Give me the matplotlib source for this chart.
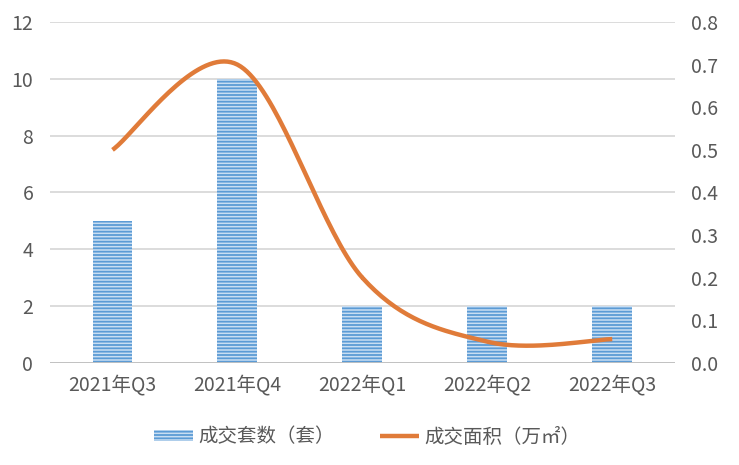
import numpy as np
import matplotlib.pyplot as plt

plt.rcParams['font.family'] = ['Noto Sans CJK SC', 'DejaVu Sans']
plt.rcParams['hatch.color'] = '#5b9bd5'
plt.rcParams['hatch.linewidth'] = 1.3

quarters = ['2021年Q3', '2021年Q4', '2022年Q1', '2022年Q2', '2022年Q3']
deals = [5, 10, 2, 2, 2]
area = [0.50, 0.70, 0.20, 0.05, 0.056]


def catmull_rom(xs, ys, n=40):
    # smooth line like the office chart tool, through every point
    px = np.concatenate([[xs[0]], xs, [xs[-1]]])
    py = np.concatenate([[ys[0]], ys, [ys[-1]]])
    out_x, out_y = [], []
    t = np.linspace(0, 1, n)
    for i in range(1, len(px) - 2):
        for p, o in ((px, out_x), (py, out_y)):
            p0, p1, p2, p3 = p[i - 1], p[i], p[i + 1], p[i + 2]
            o.extend(0.5 * ((2 * p1) + (-p0 + p2) * t
                            + (2 * p0 - 5 * p1 + 4 * p2 - p3) * t ** 2
                            + (-p0 + 3 * p1 - 3 * p2 + p3) * t ** 3))
    return np.array(out_x), np.array(out_y)


fig = plt.figure(figsize=(7.39, 4.65), dpi=100)
ax = fig.add_axes([0.0677, 0.2194, 0.8453, 0.7333])
ax2 = ax.twinx()

x = np.arange(len(quarters))
bars = ax.bar(x, deals, width=0.32, color='#c9def2', edgecolor='#5b9bd5',
              linewidth=0, hatch='-----', label='成交套数（套）', zorder=2)

sx, sy = catmull_rom(x.astype(float), np.array(area))
ln, = ax2.plot(sx, sy, color='#e07b39', lw=3.2, solid_capstyle='butt',
               label='成交面积（万㎡）')

ax.set_xlim(-0.5, len(quarters) - 0.5)
ax.set_ylim(0, 12)
ax.set_yticks(range(0, 13, 2))
ax2.set_ylim(0, 0.8)
ax2.set_yticks(np.arange(0, 0.81, 0.1))
ax2.set_yticklabels([f'{v:.1f}' for v in np.arange(0, 0.81, 0.1)])
ax.set_xticks(x)
ax.set_xticklabels(quarters)

ax.grid(axis='y', color='#d9d9d9', lw=1.3, zorder=0)
ax.set_axisbelow(True)
for a in (ax, ax2):
    for s in ('top', 'left', 'right', 'bottom'):
        a.spines[s].set_visible(False)
    a.tick_params(length=0, labelsize=14, colors='#595959')
ax.axhline(0, color='#bfbfbf', lw=2, zorder=3)
ax.tick_params(axis='x', pad=8)
ax.tick_params(axis='y', pad=12)
ax2.tick_params(axis='y', pad=12)

fig.legend([bars, ln], ['成交套数（套）', '成交面积（万㎡）'], loc='center',
           bbox_to_anchor=(0.497, 0.06), ncol=2, frameon=False, fontsize=14,
           labelcolor='#595959', handlelength=2.0, handleheight=0.5,
           columnspacing=2.3, handletextpad=0.3)

fig.savefig('out.png', dpi=100)
